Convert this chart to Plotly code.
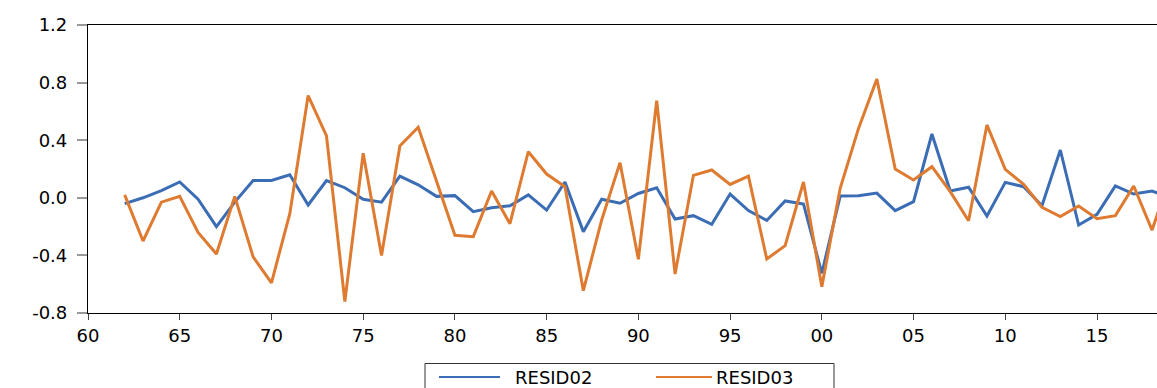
import plotly.graph_objects as go

# Annual residual series, 1962-2019
years = list(range(1962, 2020))

resid02 = [
    -0.04, 0.00, 0.05, 0.11, -0.01, -0.20, -0.03, 0.12, 0.12, 0.16,
    -0.05, 0.12, 0.07, -0.01, -0.03, 0.15, 0.09, 0.01, 0.015, -0.096,
    -0.069, -0.055, 0.02, -0.085, 0.11, -0.235, -0.01, -0.038, 0.03, 0.07,
    -0.147, -0.124, -0.184, 0.026, -0.089, -0.157, -0.022, -0.043, -0.524, 0.012,
    0.015, 0.033, -0.089, -0.027, 0.443, 0.047, 0.073, -0.126, 0.107, 0.077,
    -0.055, 0.332, -0.189, -0.115, 0.082, 0.026, 0.047, 0.00,
]

resid03 = [
    0.02, -0.30, -0.03, 0.01, -0.24, -0.39, 0.01, -0.41, -0.59, -0.11,
    0.71, 0.43, -0.72, 0.31, -0.40, 0.36, 0.49, 0.12, -0.26, -0.27,
    0.047, -0.18, 0.32, 0.165, 0.077, -0.645, -0.154, 0.244, -0.427, 0.674,
    -0.529, 0.156, 0.193, 0.093, 0.151, -0.425, -0.332, 0.11, -0.617, 0.066,
    0.482, 0.825, 0.20, 0.124, 0.216, 0.043, -0.159, 0.506, 0.198, 0.093,
    -0.066, -0.131, -0.057, -0.145, -0.124, 0.082, -0.224, 0.15,
]

x_ticks = list(range(1960, 2020, 5))
x_ticktext = ["60", "65", "70", "75", "80", "85", "90", "95", "00", "05", "10", "15"]
y_ticks = [-0.8, -0.4, 0.0, 0.4, 0.8, 1.2]
y_ticktext = ["-0.8", "-0.4", "0.0", "0.4", "0.8", "1.2"]

BLUE = "#3B6DB5"
ORANGE = "#DE7B31"

W, H = 1157, 388
ML, MR, MT, MB = 88, 0, 25, 75
PW, PH = W - ML - MR, H - MT - MB


def px_x(p):
    """Pixel column -> paper x."""
    return (p - ML) / PW


def px_y(p):
    """Pixel row -> paper y."""
    return (H - MB - p) / PH


fig = go.Figure()
fig.add_trace(go.Scatter(x=years, y=resid02, mode="lines", name="RESID02",
                         line=dict(color=BLUE, width=3)))
fig.add_trace(go.Scatter(x=years, y=resid03, mode="lines", name="RESID03",
                         line=dict(color=ORANGE, width=3)))

# Boxed legend under the plot, drawn with shapes so it can run off the bottom edge
shapes = [dict(type="rect", xref="paper", yref="paper",
               x0=px_x(425), x1=px_x(834), y0=px_y(410), y1=px_y(363.5),
               line=dict(color="#333333", width=1), fillcolor="white", layer="above")]
annotations = []
legend_y = px_y(377)
for trace, (lx0, lx1, tx) in zip(fig.data, [(439, 500, 513), (656, 712, 714)]):
    shapes.append(dict(type="line", xref="paper", yref="paper",
                       x0=px_x(lx0), x1=px_x(lx1), y0=legend_y, y1=legend_y,
                       line=dict(color=trace.line.color, width=2)))
    annotations.append(dict(xref="paper", yref="paper", x=px_x(tx), y=legend_y,
                            text=trace.name, showarrow=False, xanchor="left",
                            yanchor="middle",
                            font=dict(family="DejaVu Sans", size=18, color="black")))

fig.update_layout(
    width=W, height=H,
    margin=dict(l=ML, r=MR, t=MT, b=MB),
    paper_bgcolor="white", plot_bgcolor="white",
    font=dict(family="DejaVu Sans", size=17, color="black"),
    showlegend=False,
    shapes=shapes, annotations=annotations,
)

fig.update_xaxes(
    range=[1960, 2018.27], tickvals=x_ticks, ticktext=x_ticktext,
    showgrid=False, zeroline=False, showline=True, linecolor="black", linewidth=1.2,
    mirror=True, ticks="outside", ticklen=6, tickcolor="#444444", tickwidth=1,
    tickfont=dict(size=18),
)
fig.update_yaxes(
    range=[-0.8, 1.2], tickvals=y_ticks, ticktext=y_ticktext,
    showgrid=False, zeroline=False, showline=True, linecolor="black", linewidth=1.2,
    mirror=False, ticks="outside", ticklen=10, tickcolor="#999999", tickwidth=1.5,
    tickfont=dict(size=18), ticklabelstandoff=6,
)

fig.write_html("out.html")
